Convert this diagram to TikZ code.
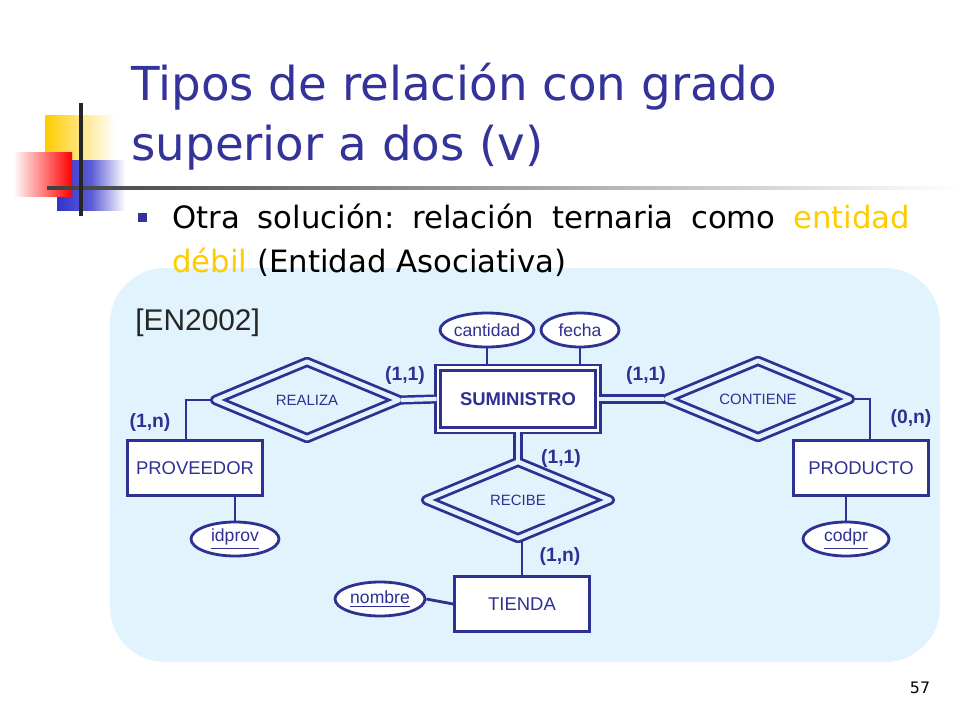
\documentclass[tikz,border=0pt]{standalone}
\usepackage{fontspec}
\setmainfont{DejaVu Sans}
\newfontfamily\arialfont{Liberation Sans}
\usetikzlibrary{shapes.geometric, positioning}
\definecolor{titleblue}{HTML}{333399}
\definecolor{erblue}{HTML}{2E3192}
\definecolor{panel}{HTML}{E1F3FC}
\definecolor{logoyellow}{HTML}{FFCC00}
\definecolor{logoblue}{HTML}{3333CC}
\tikzstyle{entity} = [rectangle, draw=erblue, line width=1.6pt, fill=white, minimum width=2.7cm, minimum height=1.1cm, font=\arialfont\fontsize{10.5}{12}\selectfont, text=erblue]
\tikzstyle{weak} = [entity, double=white, double distance=1.6pt, fill=white, minimum width=3.2cm, minimum height=1.25cm, font=\arialfont\bfseries\fontsize{10.5}{12}\selectfont]
\tikzstyle{relation} = [diamond, draw=erblue, line width=1.6pt, line join=round, double=panel, double distance=2.6pt, aspect=2.4, inner sep=0pt, minimum width=3.7cm, minimum height=1.55cm, font=\arialfont\fontsize{8.5}{10}\selectfont, text=erblue]
\tikzstyle{attrib} = [ellipse, draw=erblue, line width=1.6pt, fill=white, inner sep=0pt, minimum height=0.68cm, font=\arialfont\fontsize{10}{12}\selectfont, text=erblue]
\tikzstyle{link} = [draw=erblue, line width=1.6pt]
\tikzstyle{dlink} = [draw=erblue, line width=1.4pt, double=panel, double distance=2.4pt]
\tikzstyle{card} = [font=\arialfont\bfseries\fontsize{11}{13}\selectfont, text=erblue]

\begin{document}
\begin{tikzpicture}[x=0.02cm, y=-0.02cm]
			\useasboundingbox (0,0) rectangle (960,720);
			% Logo and rule
			\shade[left color=logoyellow, right color=white] (45,115) rectangle (115,160);
			\shade[left color=logoblue, right color=white, middle color=logoblue!80] (57,160) rectangle (125,210);
			\shade[left color=white, right color=red] (13,152) rectangle (72,196);
			\shade[left color=black!75, right color=white] (47,186) rectangle (960,189);
			\draw[black!85, line width=2pt] (81,103) -- (81,216);
			% Panel
			\fill[panel, rounded corners=1.1cm] (110,268) rectangle (940,662);
			% Title and bullet
			\node (title1) [anchor=base west, text=titleblue, font=\fontsize{26.6}{32}\selectfont, inner sep=0pt] at (131,100) {Tipos de relación con grado};
			\node (title2) [anchor=base west, text=titleblue, font=\fontsize{26.6}{32}\selectfont, inner sep=0pt] at (131,160) {superior a dos (v)};
			\node (bullet) [rectangle, fill=titleblue, minimum size=0.18cm, inner sep=0pt] at (142,217) {};
			\node (line1) [anchor=base west, inner sep=0pt, font=\fontsize{17.5}{20}\selectfont] at (172,228) {\hbox to 14.76cm{Otra\hfill solución:\hfill relación\hfill ternaria\hfill como\hfill \textcolor{logoyellow}{entidad}}};
			\node (line2) [anchor=base west, inner sep=0pt, font=\fontsize{17.5}{20}\selectfont] at (172,272) {\textcolor{logoyellow}{débil} (Entidad Asociativa)};
			\node (ref) [anchor=base west, inner sep=0pt, font=\arialfont\fontsize{17}{20}\selectfont, text=black!85] at (135,330) {[EN2002]};
			% Nodes
			\node (suministro) [weak] at (518,399) {SUMINISTRO};
			\node (realiza) [relation] at (307,400) {REALIZA};
			\node (contiene) [relation] at (758,399) {CONTIENE};
			\node (recibe) [relation] at (518,500) {RECIBE};
			\node (proveedor) [entity] at (195,468) {PROVEEDOR};
			\node (producto) [entity] at (861,468) {PRODUCTO};
			\node (tienda) [entity] at (522,604) {TIENDA};
			\node (cantidad) [attrib, minimum width=1.76cm] at (487,330) {cantidad};
			\node (fecha) [attrib, minimum width=1.56cm] at (580,330) {fecha};
			\node (idprov) [attrib, minimum width=1.76cm] at (235,539) {\underline{idprov}};
			\node (codpr) [attrib, minimum width=1.72cm] at (846,539) {\underline{codpr}};
			\node (nombre) [attrib, minimum width=1.8cm] at (380,599) {\underline{nombre}};
			% Arrows
			\draw [link] (proveedor.north -| 186,0) |- (realiza.west);
			\draw [link] (producto.north -| 870,0) |- (contiene.east);
			\draw [dlink] (realiza.east) -- (suministro.west);
			\draw [dlink] (contiene.west) -- (suministro.east);
			\draw [dlink] (suministro.south) -- (recibe.north);
			\draw [link] (recibe.south -| tienda.north) -- (tienda.north);
			\draw [link] (cantidad.south) -- (cantidad.south |- suministro.north);
			\draw [link] (fecha.south) -- (fecha.south |- suministro.north);
			\draw [link] (idprov.north) -- (idprov.north |- proveedor.south);
			\draw [link] (codpr.north) -- (codpr.north |- producto.south);
			\draw [link] (nombre.east) -- (tienda.west);
			% Cardinalities
			\node (c1) [card] at (150,422) {(1,n)};
			\node (c2) [card] at (405,375) {(1,1)};
			\node (c3) [card] at (646,375) {(1,1)};
			\node (c4) [card] at (911,418) {(0,n)};
			\node (c5) [card] at (561,458) {(1,1)};
			\node (c6) [card] at (560,556) {(1,n)};
			\node (page) [font=\fontsize{9}{11}\selectfont] at (920,688) {57};
		\end{tikzpicture}
\end{document}
